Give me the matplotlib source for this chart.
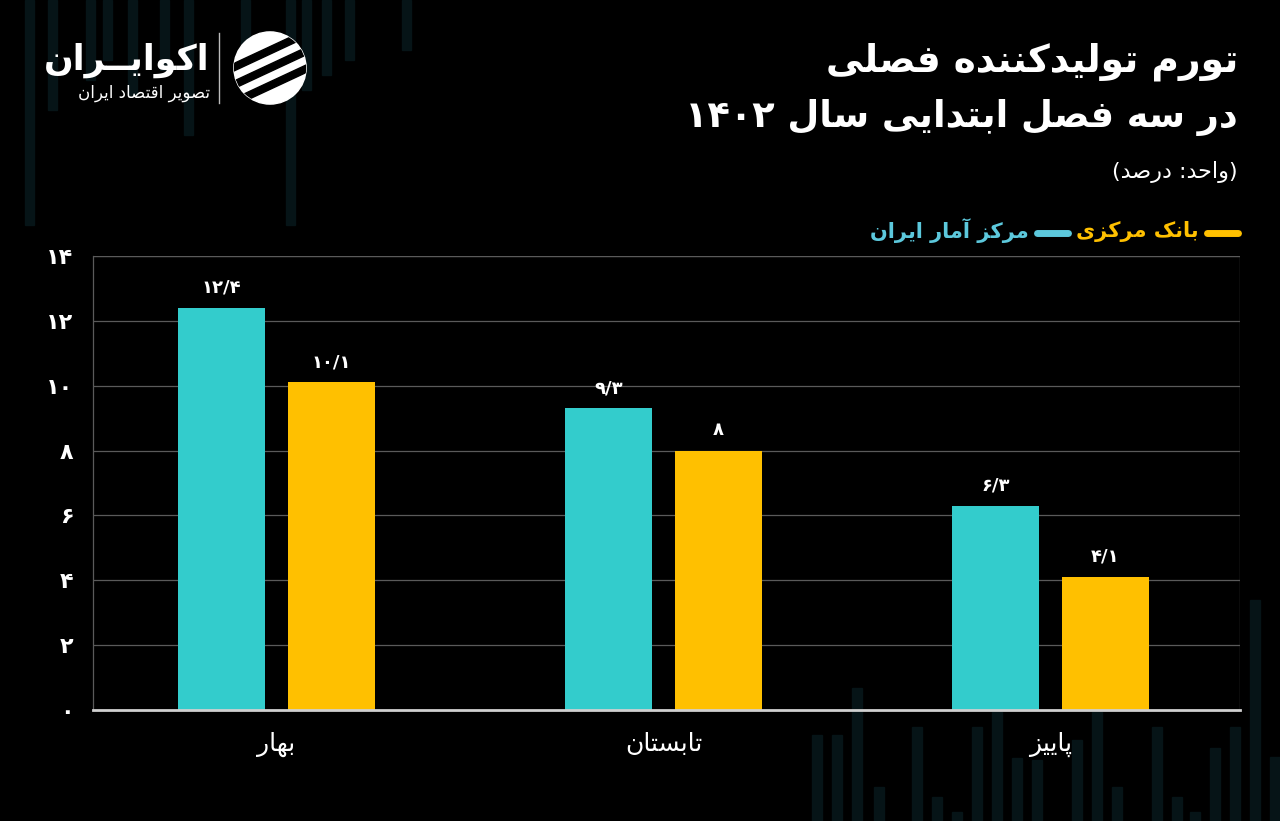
import re
import numpy as np
import matplotlib
matplotlib.use("Agg")
from matplotlib import pyplot as plt
from matplotlib.patches import Circle, Rectangle

# داده‌ها
categories = ["بهار", "تابستان", "پاییز"]
markaz_amar = [12.4, 9.3, 6.3]
bank_markazi = [10.1, 8.0, 4.1]
series_names = ["مرکز آمار ایران", "بانک مرکزی"]
y_ticks = [0, 2, 4, 6, 8, 10, 12, 14]

title_1 = "تورم تولیدکننده فصلی"
title_2 = "در سه فصل ابتدایی سال ۱۴۰۲"
subtitle = "(واحد: درصد)"
logo_name = "اکوایــران"
logo_sub = "تصویر اقتصاد ایران"

# نوارهای تزئینی پس‌زمینه (پیکسل): x و انتهای پایین / بالا
deco_top_x = [25, 48, 86, 103, 128, 160, 184, 241, 286, 302, 322, 345, 402]
deco_top_end = [225, 110, 80, 60, 95, 70, 135, 60, 225, 90, 75, 60, 50]
deco_bot_x = [812, 832, 852, 874, 912, 932, 952, 972, 992, 1012, 1032, 1072,
              1092, 1112, 1152, 1172, 1190, 1210, 1230, 1250, 1270]
deco_bot_top = [735, 735, 688, 787, 727, 797, 812, 727, 712, 758, 760, 740,
                712, 787, 727, 797, 812, 748, 727, 600, 757]

# شکل حروف: مجزا، پایانی، آغازی، میانی
FORMS = {
    "\u0627": ("\uFE8D", "\uFE8E", None, None),
    "\u0622": ("\uFE81", "\uFE82", None, None),
    "\u0628": ("\uFE8F", "\uFE90", "\uFE91", "\uFE92"),
    "\u067E": ("\uFB56", "\uFB57", "\uFB58", "\uFB59"),
    "\u062A": ("\uFE95", "\uFE96", "\uFE97", "\uFE98"),
    "\u062D": ("\uFEA1", "\uFEA2", "\uFEA3", "\uFEA4"),
    "\u062F": ("\uFEA9", "\uFEAA", None, None),
    "\u0631": ("\uFEAD", "\uFEAE", None, None),
    "\u0632": ("\uFEAF", "\uFEB0", None, None),
    "\u0633": ("\uFEB1", "\uFEB2", "\uFEB3", "\uFEB4"),
    "\u0635": ("\uFEB9", "\uFEBA", "\uFEBB", "\uFEBC"),
    "\u0641": ("\uFED1", "\uFED2", "\uFED3", "\uFED4"),
    "\u0642": ("\uFED5", "\uFED6", "\uFED7", "\uFED8"),
    "\u06A9": ("\uFB8E", "\uFB8F", "\uFB90", "\uFB91"),
    "\u0644": ("\uFEDD", "\uFEDE", "\uFEDF", "\uFEE0"),
    "\u0645": ("\uFEE1", "\uFEE2", "\uFEE3", "\uFEE4"),
    "\u0646": ("\uFEE5", "\uFEE6", "\uFEE7", "\uFEE8"),
    "\u0647": ("\uFEE9", "\uFEEA", "\uFEEB", "\uFEEC"),
    "\u0648": ("\uFEED", "\uFEEE", None, None),
    "\u06CC": ("\uFBFC", "\uFBFD", "\uFBFE", "\uFBFF"),
    "\u0640": ("\u0640", "\u0640", "\u0640", "\u0640"),
}
LAM_ALEF = {"\u0627": ("\uFEFB", "\uFEFC"), "\u0622": ("\uFEF5", "\uFEF6")}


def shape(text):
    out = []
    i = 0
    n = len(text)
    while i < n:
        c = text[i]
        if c not in FORMS:
            out.append(c)
            i += 1
            continue
        prev = text[i - 1] if i > 0 else ""
        prev_j = prev in FORMS and FORMS[prev][2] is not None
        nxt = text[i + 1] if i + 1 < n else ""
        if c == "\u0644" and nxt in LAM_ALEF:
            out.append(LAM_ALEF[nxt][1 if prev_j else 0])
            i += 2
            continue
        next_j = FORMS[c][2] is not None and nxt in FORMS
        f = FORMS[c]
        if prev_j and next_j:
            out.append(f[3])
        elif prev_j:
            out.append(f[1])
        elif next_j:
            out.append(f[2])
        else:
            out.append(f[0])
        i += 1
    return "".join(out)


def fa(text):
    s = shape(text)
    tokens = re.findall(r"[0-9\u06F0-\u06F9]+(?:[/.][0-9\u06F0-\u06F9]+)*|.", s)
    mirror = {"(": ")", ")": "("}
    return "".join(mirror.get(t, t) for t in reversed(tokens))


def fa_num(v):
    s = f"{v:g}".replace(".", "/")
    return s.translate(str.maketrans("0123456789", "۰۱۲۳۴۵۶۷۸۹"))


FONT = "DejaVu Sans"
BG = "#000000"
TEAL = "#33CCCC"
YELLOW = "#FFC000"
LEG_TEAL = "#5CC8DC"
DECO = "#061417"

plt.rcParams["font.family"] = [FONT]

W, H = 1280, 821
fig = plt.figure(figsize=(12.8, 8.21), dpi=100, facecolor=BG)

# نوارهای پس‌زمینه
for xx, yb in zip(deco_top_x, deco_top_end):
    fig.add_artist(Rectangle((xx / W, 1 - yb / H), 9 / W, yb / H,
                             color=DECO, zorder=0))
for xx, yt in zip(deco_bot_x, deco_bot_top):
    fig.add_artist(Rectangle((xx / W, 0), 10 / W, (H - yt) / H,
                             color=DECO, zorder=0))

ax = fig.add_axes([93 / W, 1 - 710 / H, (1240 - 93) / W, (710 - 256) / H])
ax.set_facecolor("none")
ax.set_zorder(2)

x = np.arange(len(categories))
bw = 0.225
off = 0.142
b1 = ax.bar(x - off, markaz_amar, bw, color=TEAL, zorder=3)
b2 = ax.bar(x + off, bank_markazi, bw, color=YELLOW, zorder=3)

for bars, vals in ((b1, markaz_amar), (b2, bank_markazi)):
    for r, v in zip(bars, vals):
        ax.text(r.get_x() + r.get_width() / 2, v + 0.35, fa_num(v),
                ha="center", va="bottom", color="white", fontsize=13,
                fontweight="bold")

ax.set_xlim(-0.474, 2.49)
ax.set_ylim(0, 14)
ax.set_yticks(y_ticks)
ax.set_yticklabels([fa_num(t) for t in y_ticks])
ax.set_xticks(x)
ax.set_xticklabels([fa(c) for c in categories])
ax.tick_params(axis="y", length=0, pad=14, labelsize=16, labelcolor="white")
ax.tick_params(axis="x", length=0, pad=16, labelsize=18, labelcolor="white")
for lab in ax.get_yticklabels():
    lab.set_fontweight("bold")

ax.grid(axis="y", color="#5a5a5a", linewidth=0.9, zorder=0)
ax.set_axisbelow(True)
for s in ("top", "right"):
    ax.spines[s].set_visible(False)
ax.spines["left"].set_color("#5a5a5a")
ax.spines["left"].set_linewidth(0.9)
ax.spines["bottom"].set_color("#d0d0d0")
ax.spines["bottom"].set_linewidth(2)
ax.spines["bottom"].set_zorder(4)
ax.axhline(14, color="#5a5a5a", linewidth=0.9, zorder=0)
ax.axvline(2.49, color="#5a5a5a", linewidth=0.9, zorder=0)

# عنوان
fig.text(1238 / W, 1 - 62 / H, fa(title_1), ha="right", va="center",
         color="white", fontsize=27, fontweight="bold")
fig.text(1238 / W, 1 - 117 / H, fa(title_2), ha="right", va="center",
         color="white", fontsize=26.5, fontweight="bold")
fig.text(1238 / W, 1 - 172 / H, fa(subtitle), ha="right", va="center",
         color="white", fontsize=16)

# راهنما
fig.add_artist(plt.Line2D([1207 / W, 1238 / W], [1 - 233 / H] * 2,
                          color=YELLOW, linewidth=5, solid_capstyle="round"))
fig.text(1199 / W, 1 - 231 / H, fa(series_names[1]), ha="right", va="center",
         color=YELLOW, fontsize=15, fontweight="bold")
fig.add_artist(plt.Line2D([1037 / W, 1068 / W], [1 - 233 / H] * 2,
                          color=LEG_TEAL, linewidth=5, solid_capstyle="round"))
fig.text(1029 / W, 1 - 231 / H, fa(series_names[0]), ha="right", va="center",
         color=LEG_TEAL, fontsize=15, fontweight="bold")

# لوگو
fig.text(210 / W, 1 - 60 / H, fa(logo_name), ha="right", va="center",
         color="white", fontsize=25, fontweight="bold")
fig.text(210 / W, 1 - 93 / H, fa(logo_sub), ha="right", va="center",
         color="white", fontsize=12)
fig.add_artist(plt.Line2D([219 / W, 219 / W], [1 - 33 / H, 1 - 103 / H],
                          color="#bbbbbb", linewidth=1))
lax = fig.add_axes([232 / W, 1 - 106 / H, 76 / W, 76 / H])
lax.set_xlim(-1, 1)
lax.set_ylim(-1, 1)
lax.set_aspect("equal")
lax.axis("off")
disk = Circle((0, 0), 0.95, color="white")
lax.add_patch(disk)
rot = matplotlib.transforms.Affine2D().rotate_deg(25) + lax.transData
for k in (-0.42, 0.0, 0.42):
    band = Rectangle((-1.5, k - 0.09), 3.0, 0.18, color=BG, transform=rot)
    band.set_clip_path(disk)
    lax.add_patch(band)

fig.savefig("out.png", dpi=100, facecolor=BG)
